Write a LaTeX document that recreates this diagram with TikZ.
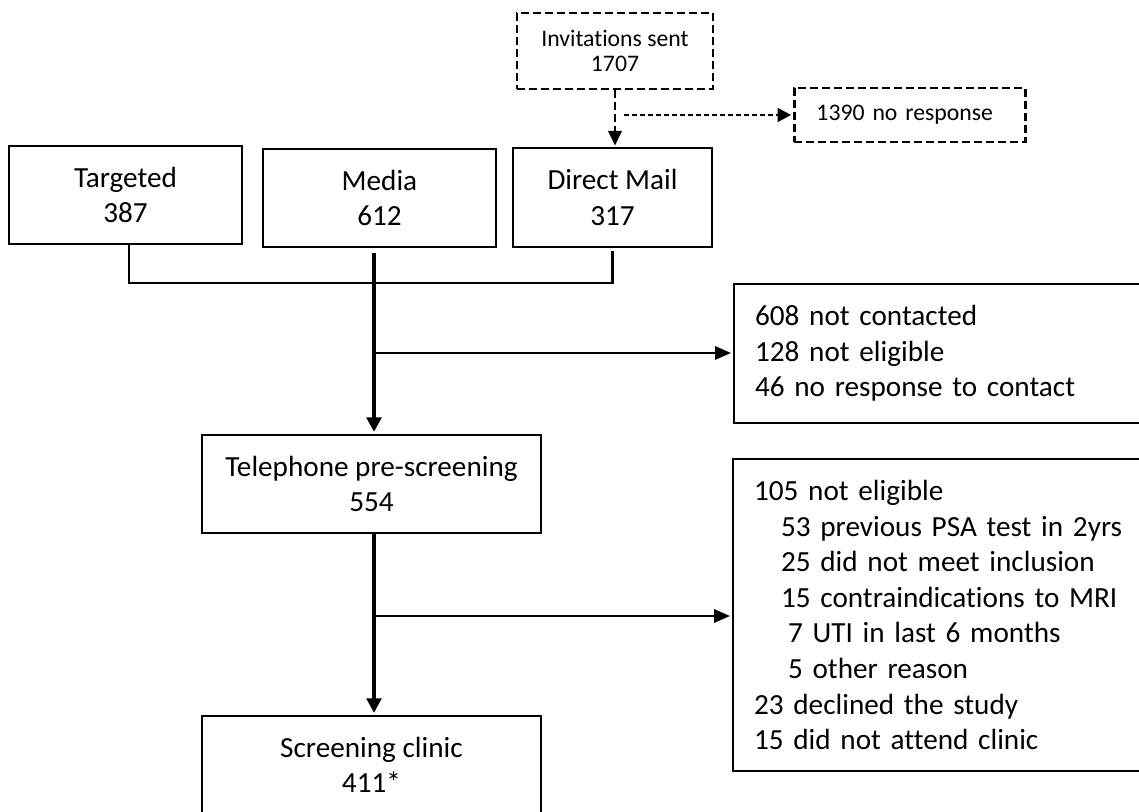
\documentclass[tikz,border=0pt]{standalone}
\usepackage{fontspec}
\setmainfont{Carlito}[Ligatures={NoCommon,NoContextual}]
\usetikzlibrary{arrows.meta}
\newcommand\FontBig{\fontsize{21.9pt}{26.7pt}\selectfont}
\newcommand\FontSmall{\fontsize{17.8pt}{18.8pt}\selectfont}
\begin{document}
\begin{tikzpicture}[x=1pt,y=-1pt,
  box/.style={draw, line width=1.6pt, inner sep=0pt, align=center, font=\FontBig},
  lbox/.style={draw, line width=1.6pt, inner ysep=0pt, inner xsep=15.75pt, minimum width=337.5pt, text width=306pt, align=left, font=\FontBig},
  dbox/.style={draw, line width=2.2pt, dash pattern=on 6pt off 3pt, inner sep=0pt, align=center, font=\FontSmall},
  conn/.style={line width=1.6pt},
  thinarr/.style={line width=1.6pt, -{Triangle[length=12pt,width=10pt]}, shorten >=1.5pt},
  thickarr/.style={line width=3pt, -{Triangle[length=11pt,width=11pt]}, shorten >=1.5pt},
  dasharr/.style={line width=2.2pt, dash pattern=on 6pt off 3pt, -{Triangle[length=11pt,width=10pt]}, shorten >=1pt},
  thindasharr/.style={line width=0.9pt, dash pattern=on 3.75pt off 2.25pt, -{Triangle[length=10pt,width=10.5pt]}, shorten >=1.5pt}
]
\useasboundingbox (0,0) rectangle (854.25,609);
\clip (0,0) rectangle (854.25,609);

% top row
\node[dbox, minimum width=147pt, minimum height=57pt] (inv) at (461.25,38.25) {Invitations sent\\1707};
\node[dbox, anchor=west, minimum width=173.25pt, minimum height=40.5pt, text width=140.25pt, inner xsep=16.5pt, align=left] (nores) at (594.75,86.25) {1390 no response};

\node[box, minimum width=174.75pt, minimum height=73.5pt] (targeted) at (94.1,146.25) {Targeted\\387};
\node[box, minimum width=174.75pt, minimum height=73.5pt] (media) at (284.6,148.5) {Media\\612};
\node[box, minimum width=149.25pt, minimum height=74.25pt] (dmail) at (459.4,148.1) {Direct Mail\\317};

% middle / bottom
\node[box, minimum width=254.25pt, minimum height=73.5pt] (tel) at (278.6,363) {Telephone pre-screening\\554};
\node[box, minimum width=254.25pt, minimum height=73.5pt] (clinic) at (278.6,573.75) {Screening clinic\\411*};

\node[lbox, anchor=north west, minimum height=104.25pt] (ex1) at (549.75,212.25)
  {608 not contacted\\128 not eligible\\46 no response to contact};
\node[lbox, anchor=north west, minimum height=234pt] (ex2) at (549,343.5)
  {105 not eligible\\
   \hspace*{20.25pt}53 previous PSA test in 2yrs\\
   \hspace*{20.25pt}25 did not meet inclusion\\
   \hspace*{20.25pt}15 contraindications to MRI\\
   \hspace*{25.5pt}7 UTI in last 6 months\\
   \hspace*{25.5pt}5 other reason\\
   23 declined the study\\
   15 did not attend clinic};

% coordinates
\coordinate (b1) at (96.75,212.25);
\coordinate (m1) at (280.5,189.75);
\coordinate (j1) at (280.5,264.75);
\coordinate (j2) at (280.5,462);
\coordinate (d1) at (468,86.25);

% connectors
\draw[conn] (targeted.south -| b1) -- (b1) -- (b1 -| dmail.south) -- ([yshift=-2.25pt]dmail.south);
\draw[thickarr] (m1) -- (j1 |- tel.north);
\draw[thinarr] (j1) -- (j1 -| ex1.west);
\draw[thickarr] (tel.south -| j2) -- (j2 |- clinic.north);
\draw[thinarr] (j2) -- (j2 -| ex2.west);
\draw[dasharr] (inv.south) -- (inv.south |- dmail.north);
\draw[thindasharr] (d1) -- (nores.west);
\end{tikzpicture}
\end{document}
